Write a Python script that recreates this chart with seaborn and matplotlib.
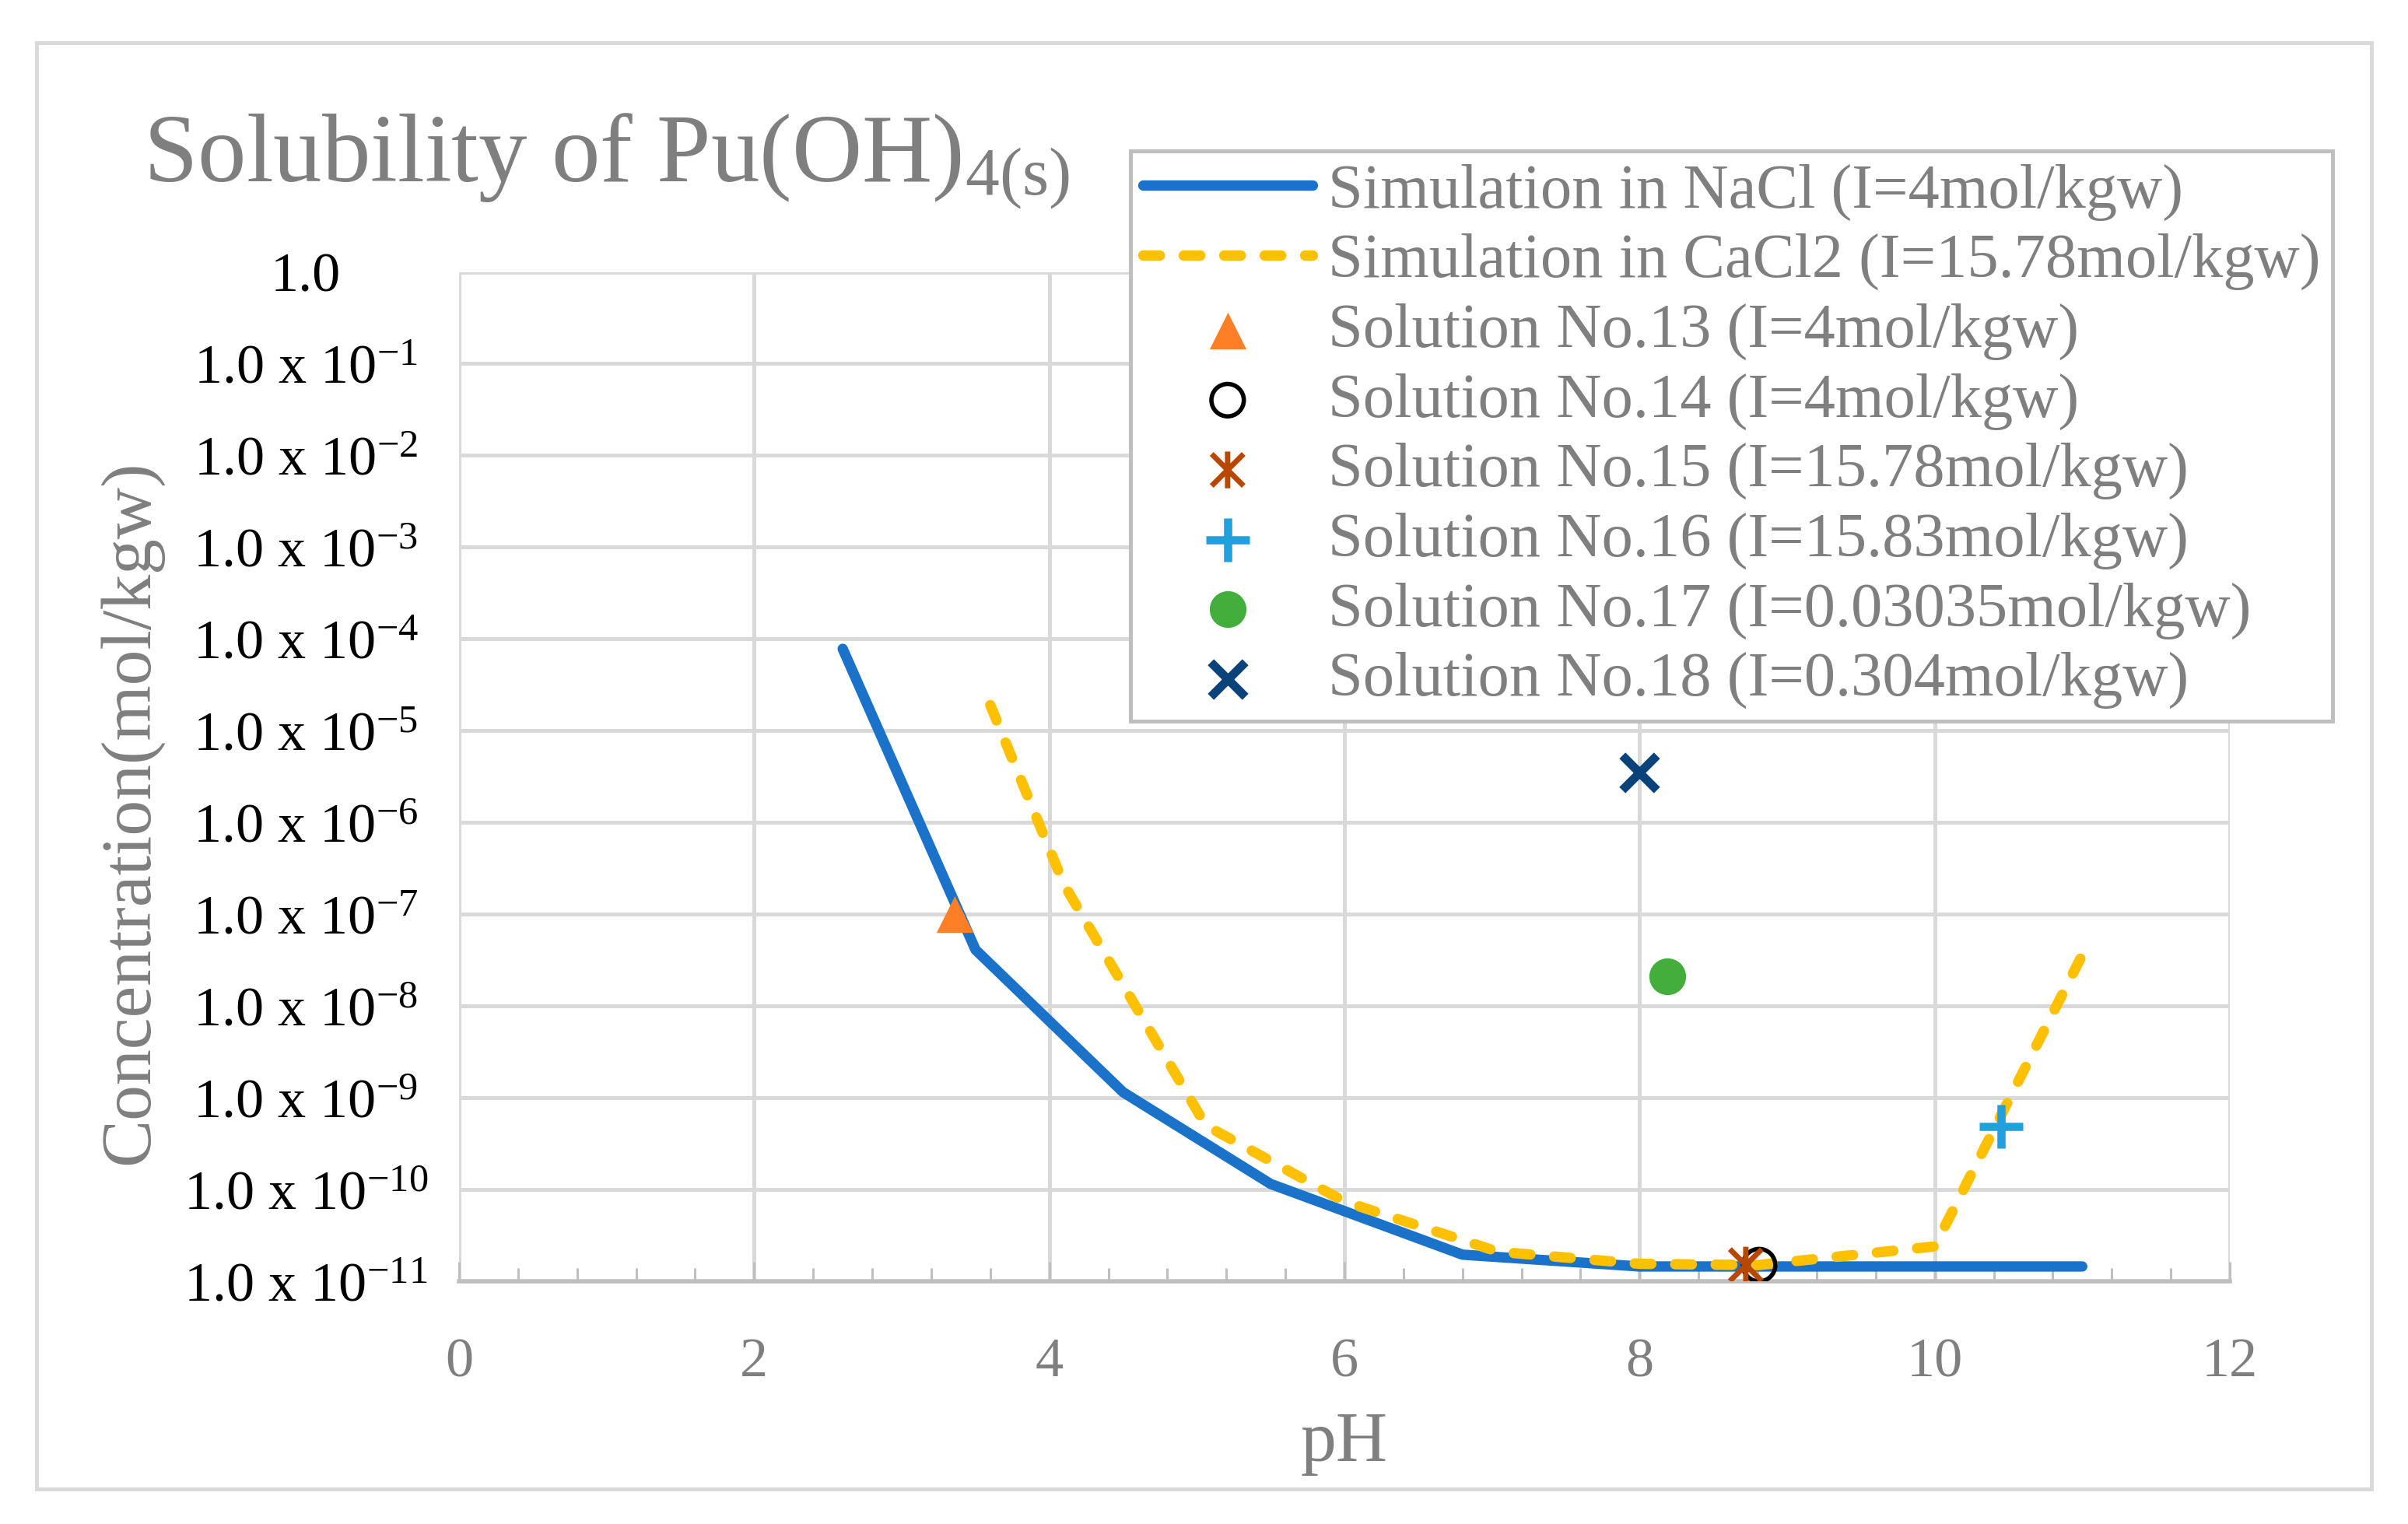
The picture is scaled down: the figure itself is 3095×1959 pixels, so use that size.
import matplotlib
matplotlib.use("Agg")
import matplotlib.pyplot as plt
import matplotlib.ticker as mticker
from matplotlib.path import Path
from matplotlib.patches import Rectangle
import seaborn as sns

# simulated solubility curves (pH, mol/kgw)
nacl_ph = [2.6, 3.5, 4.5, 5.5, 6.8, 8.0, 9.0, 10.0, 11.0]
nacl_conc = [7.8e-5, 4.1e-8, 1.15e-9, 1.15e-10, 1.95e-11, 1.45e-11, 1.45e-11, 1.45e-11, 1.45e-11]
cacl2_ph = [3.6, 4.1, 5.06, 6.0, 7.04, 8.0, 8.8, 10.0, 11.0]
cacl2_conc = [1.9e-5, 2.1e-7, 5.0e-10, 7.4e-11, 2.1e-11, 1.55e-11, 1.5e-11, 2.4e-11, 3.6e-8]

# measured solutions
sol_labels = ["Solution No.13 (I=4mol/kgw)", "Solution No.14 (I=4mol/kgw)",
              "Solution No.15 (I=15.78mol/kgw)", "Solution No.16 (I=15.83mol/kgw)",
              "Solution No.17 (I=0.03035mol/kgw)", "Solution No.18 (I=0.304mol/kgw)"]
sol_ph = [3.36, 8.81, 8.72, 10.45, 8.19, 8.0]
sol_conc = [1.0e-7, 1.5e-11, 1.5e-11, 4.9e-10, 2.1e-8, 3.5e-6]

ytick_vals = [1.0, 1e-1, 1e-2, 1e-3, 1e-4, 1e-5, 1e-6, 1e-7, 1e-8, 1e-9, 1e-10, 1e-11]
ytick_labels = ["1.0"] + [r"1.0 x 10$^{-%d}$" % k for k in range(1, 12)]
xtick_vals = [0, 2, 4, 6, 8, 10, 12]

sns.set_theme(style="white")
plt.rcParams['font.family'] = ['Liberation Serif', 'DejaVu Serif']
plt.rcParams['mathtext.fontset'] = 'custom'
plt.rcParams['mathtext.rm'] = 'Liberation Serif'
plt.rcParams['mathtext.it'] = 'Liberation Serif:italic'
plt.rcParams['mathtext.bf'] = 'Liberation Serif:bold'
plt.rcParams['mathtext.default'] = 'regular'

W, H = 3095, 1959
gray = '#7f7f7f'
fig = plt.figure(figsize=(W / 200, H / 200), dpi=200)
ax = fig.add_axes([590 / W, 1 - 1647 / H, (2866 - 590) / W, (1647 - 349.5) / H])

sns.lineplot(x=nacl_ph, y=nacl_conc, ax=ax, color='#1A73C8', linewidth=4.8,
             solid_capstyle='round', label="Simulation in NaCl (I=4mol/kgw)")
sns.lineplot(x=cacl2_ph, y=cacl2_conc, ax=ax, color='#FFC000', linewidth=4.8,
             linestyle='--', dash_capstyle='round', label="Simulation in CaCl2 (I=15.78mol/kgw)")
ax.lines[0].set_linewidth(4.8)
ax.lines[1].set_linewidth(4.8)
ax.lines[1].set_dashes((1.6, 2.3))

star = Path([(-1, -1), (1, 1), (-1, 1), (1, -1), (0, -1.15), (0, 1.15)],
            [Path.MOVETO, Path.LINETO, Path.MOVETO, Path.LINETO, Path.MOVETO, Path.LINETO])

sol_style = [
    dict(marker='^', s=17 ** 2, color='#FF7F27', edgecolor='#FF7F27', linewidth=0),
    dict(marker='o', s=15 ** 2, color='black', facecolor='none', edgecolor='black', linewidth=2.0),
    dict(marker=star, s=17 ** 2, color='#B84700', facecolor='none', edgecolor='#B84700', linewidth=2.5),
    dict(marker='+', s=20 ** 2, color='#22A0DD', linewidth=3.8),
    dict(marker='o', s=17 ** 2, color='#44AE3C', edgecolor='#44AE3C', linewidth=0),
    dict(marker='x', s=16 ** 2, color='#0A4379', linewidth=4.0),
]
for xv, yv, lab, st in zip(sol_ph, sol_conc, sol_labels, sol_style):
    sns.scatterplot(x=[xv], y=[yv], ax=ax, label=lab, zorder=4, **st)

ax.set_yscale('log')
ax.set_ylim(1e-11, 1.0)
ax.set_xlim(0, 12)
ax.set_yticks(ytick_vals)
ax.set_yticklabels(ytick_labels)
ax.yaxis.set_minor_locator(mticker.NullLocator())
ax.set_xticks(xtick_vals)
ax.xaxis.set_minor_locator(mticker.MultipleLocator(0.4))
ax.set_xlabel('')
ax.set_ylabel('')

ax.grid(True, which='major', color='#d9d9d9', linewidth=1.8)
ax.set_axisbelow(True)
for side in ['top', 'left', 'right']:
    ax.spines[side].set_visible(False)
ax.spines['bottom'].set_color('#bfbfbf')
ax.spines['bottom'].set_linewidth(2.0)

ax.tick_params(axis='x', which='major', direction='in', length=9, width=1.1, color='#bfbfbf',
               labelsize=26, labelcolor=gray, pad=26, bottom=True)
ax.tick_params(axis='x', which='minor', direction='in', length=6, width=1.1, color='#bfbfbf', bottom=True)
ax.tick_params(axis='y', length=0, labelsize=26, labelcolor='black', pad=71)
for lab in ax.get_yticklabels():
    lab.set_ha('center')

handles, labels = ax.get_legend_handles_labels()
leg = ax.legend(handles, labels, loc='upper left', bbox_to_anchor=(1453 / W, 1 - 194 / H),
                bbox_transform=fig.transFigure, fontsize=29, frameon=True, fancybox=False,
                edgecolor='#bfbfbf', framealpha=1, borderpad=0.2, labelspacing=0.2,
                handlelength=2.7, handletextpad=0.25, borderaxespad=0, scatterpoints=1)
leg.get_frame().set_linewidth(1.8)
for t in leg.get_texts():
    t.set_color(gray)

fig.text(184 / W, 1 - 233 / H, r'Solubility of Pu(OH)$_{4(s)}$', fontsize=45, color=gray,
         ha='left', va='baseline')
fig.text(168 / W, 0.467, 'Concentration(mol/kgw)', rotation=90, ha='center', va='center',
         fontsize=33, color=gray)
fig.text(0.558, 0.0526, 'pH', ha='center', va='center', fontsize=33, color=gray)

fig.add_artist(Rectangle((47 / W, 1 - 1914 / H), (3048 - 47) / W, (1914 - 55) / H,
                         transform=fig.transFigure, fill=False, edgecolor='#d9d9d9', linewidth=1.8))

fig.savefig('out.png', dpi=200)
